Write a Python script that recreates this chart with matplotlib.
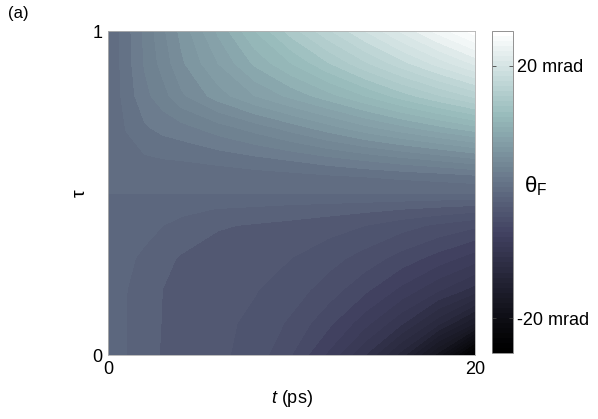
import numpy as np
import matplotlib
matplotlib.use('Agg')
import matplotlib.pyplot as plt
from matplotlib.colors import Normalize, ListedColormap
from matplotlib.cm import ScalarMappable

plt.rcParams['font.family'] = ['Liberation Sans', 'DejaVu Sans']
plt.rcParams['mathtext.fontset'] = 'custom'
plt.rcParams['mathtext.rm'] = 'Liberation Sans'
plt.rcParams['mathtext.it'] = 'Liberation Sans:italic'

# grid
t_ps = [0, 0.5, 1, 2, 3, 4, 6, 8, 10, 12, 14, 16, 18, 20]
tau_vals = [0.0, 0.1, 0.2, 0.3, 0.4, 0.45, 0.5, 0.55, 0.6, 0.7, 0.8, 0.9, 1.0]

# theta_F (mrad), one list per tau row
th_000 = [-0.2, -0.5, -1.0, -1.6, -2.1, -2.4, -2.8, -3.4, -5.0, -7.2, -10.0, -13.5, -18.5, -25.5]
th_010 = [-0.2, -0.5, -1.0, -1.58, -2.05, -2.38, -2.78, -3.2, -4.2, -5.7, -7.6, -9.8, -12.6, -16.0]
th_020 = [-0.2, -0.48, -0.98, -1.5, -2.02, -2.3, -2.7, -2.95, -3.5, -4.5, -5.8, -7.3, -8.9, -10.5]
th_030 = [-0.2, -0.42, -0.85, -1.15, -1.75, -2.1, -2.5, -2.7, -3.0, -3.6, -4.4, -5.4, -6.4, -7.5]
th_040 = [-0.2, -0.3, -0.6, -0.75, -1.0, -1.3, -1.9, -2.1, -2.3, -2.6, -3.0, -3.6, -4.2, -4.8]
th_045 = [-0.15, -0.18, -0.35, -0.5, -0.6, -0.75, -1.05, -1.2, -1.4, -1.55, -1.75, -2.0, -2.3, -2.6]
th_050 = [0, 0, 0, 0, 0, 0, 0, 0, 0, 0, 0, 0, 0, 0]
th_055 = [0.15, 0.15, 0.25, 0.3, 0.33, 0.35, 0.4, 0.5, 0.6, 0.8, 1.0, 1.2, 1.4, 1.7]
th_060 = [0.2, 0.35, 0.6, 0.8, 0.92, 1.0, 1.25, 1.6, 2.0, 2.5, 3.0, 3.5, 4.0, 4.6]
th_070 = [0.2, 0.6, 1.05, 1.85, 2.3, 2.6, 3.5, 4.4, 5.4, 6.5, 7.6, 8.6, 9.6, 10.6]
th_080 = [0.2, 0.74, 1.4, 2.7, 3.6, 4.8, 6.5, 8.0, 9.3, 10.6, 12.0, 13.5, 14.9, 16.3]
th_090 = [0.2, 0.78, 1.55, 3.1, 4.4, 5.8, 8.0, 10.2, 12.0, 13.9, 15.8, 17.6, 19.4, 21.2]
th_100 = [0.2, 0.8, 1.6, 3.2, 4.8, 6.3, 9.2, 12.0, 14.5, 16.8, 19.0, 21.2, 23.4, 25.5]

cbar_ticks = [-20, 20]
cbar_labels = ['-20 mrad', '20 mrad']

theta = np.array([th_000, th_010, th_020, th_030, th_040, th_045, th_050,
                  th_055, th_060, th_070, th_080, th_090, th_100])

# 64-step bone, a bit darker in the middle like the original
bone = plt.get_cmap('bone')(np.linspace(0, 1, 64))[:, :3]
cmap = ListedColormap(bone ** 1.2)
norm = Normalize(vmin=-25.5, vmax=25.5)
levels = np.arange(-26, 27, 1)

fig = plt.figure(figsize=(5.98, 4.19), dpi=100)
ax = fig.add_axes([0.1806, 0.1527, 0.6137, 0.7733])
ax.contourf(t_ps, tau_vals, theta, levels=levels, cmap=cmap, norm=norm)

ax.set_xlim(0, 20)
ax.set_ylim(0, 1)
ax.set_xticks([0, 20])
ax.set_yticks([0, 1])
ax.tick_params(length=0, labelsize=13, pad=4)
for sp in ax.spines.values():
    sp.set_linewidth(0.6)
    sp.set_color('#b0b0b0')

ax.set_xlabel('$t$ (ps)', fontsize=13)
ax.xaxis.set_label_coords(0.5, -0.133)
ax.xaxis.label.set_va('center')
ax.set_ylabel('τ', fontsize=14)
ax.yaxis.set_label_coords(-0.075, 0.5)
ax.yaxis.label.set_va('center')

cax = fig.add_axes([0.8227, 0.1575, 0.0351, 0.7685])
cb = fig.colorbar(ScalarMappable(norm=norm, cmap=cmap), cax=cax, ticks=cbar_ticks)
cb.ax.set_yticklabels(cbar_labels)
cax.tick_params(direction='in', length=3, width=0.6, left=True, right=True,
                labelsize=13, pad=3, color='#444444')
cb.outline.set_linewidth(0.6)
cb.outline.set_edgecolor('#808080')

fig.text(0.876, 0.555, 'θ$_\\mathrm{F}$', fontsize=16, ha='left', va='center')
fig.text(0.013, 0.967, '(a)', fontsize=12, ha='left', va='center')

fig.savefig('out.png', dpi=100)
